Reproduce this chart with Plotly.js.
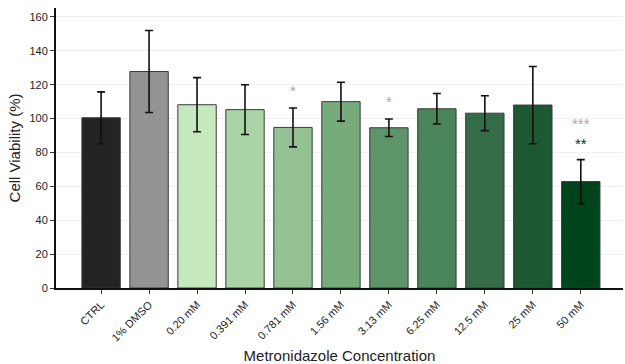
<!DOCTYPE html>
<html>
<head>
<meta charset="utf-8">
<script src="https://cdn.plot.ly/plotly-3.0.1.min.js"></script>
<style>html,body{margin:0;padding:0;background:#fff;}#chart{width:625px;height:364px;}</style>
</head>
<body>
<div id="chart"></div>
<script>
var categories = ["CTRL","1% DMSO","0.20 mM","0.391 mM","0.781 mM","1.56 mM","3.13 mM","6.25 mM","12.5 mM","25 mM","50 mM"];
var viability = [100.5, 127.8, 108.2, 105.3, 94.8, 110.0, 94.6, 105.8, 103.2, 108.0, 62.8];
var errors = [15.3, 24.2, 16.0, 14.7, 11.5, 11.5, 5.2, 9.0, 10.3, 22.8, 13.0];
var barColors = ["#232323","#939393","#c6e8bf","#aad4a5","#94c194","#78ab7c","#5d9468","#4a8459","#346c48","#1c5831","#00441b"];
// significance marks vs. vehicle (gray) and vs. control (black)
var sigGray = ["","","","","*","","*","","","","***"];
var sigBlack = ["","","","","","","","","","","**"];
var sigY = [0,0,0,0,116.5,0,110,0,0,0,91];

var annotations = [];
for (var i = 0; i < categories.length; i++) {
  var parts = [];
  if (sigGray[i]) parts.push("<span style='color:#a8a8a8'>" + sigGray[i] + "</span>");
  if (sigBlack[i]) parts.push("<span style='color:#222'>" + sigBlack[i] + "</span>");
  if (parts.length) annotations.push({x: categories[i], y: sigY[i], text: parts.join("<br>"), showarrow: false,
    font: {family: "Liberation Sans, Arial, sans-serif", size: 15, color: "#a8a8a8"}});
}

var trace = {
  type: "bar",
  x: categories,
  y: viability,
  width: 0.8,
  marker: {color: barColors, line: {color: "#3a3a3a", width: 1}},
  error_y: {type: "data", array: errors, visible: true, color: "#111", thickness: 1.6, width: 4}
};

var layout = {
  width: 625, height: 364,
  margin: {l: 56, r: 2, t: 8, b: 76},
  paper_bgcolor: "#fff", plot_bgcolor: "#fff",
  font: {family: "Liberation Sans, Arial, sans-serif", color: "#222"},
  showlegend: false,
  xaxis: {
    range: [-0.94, 10.88],
    tickangle: -45,
    ticks: "outside", ticklen: 4, tickwidth: 1, tickcolor: "#333",
    showline: true, linecolor: "#111", linewidth: 2,
    showgrid: false,
    tickfont: {size: 11, color: "#222"},
    title: {text: "Metronidazole Concentration", font: {size: 15, color: "#222"}, standoff: 8}
  },
  yaxis: {
    range: [0, 165.3],
    tickvals: [0,20,40,60,80,100,120,140,160],
    ticks: "outside", ticklen: 4, tickwidth: 1, tickcolor: "#333",
    showline: true, linecolor: "#111", linewidth: 2,
    showgrid: true, gridcolor: "#efefef", gridwidth: 1,
    zeroline: false,
    tickfont: {size: 11, color: "#222"},
    title: {text: "Cell Viability (%)", font: {size: 15, color: "#222"}, standoff: 5}
  },
  annotations: annotations
};

Plotly.newPlot("chart", [trace], layout, {displayModeBar: false, staticPlot: true});
</script>
</body>
</html>
